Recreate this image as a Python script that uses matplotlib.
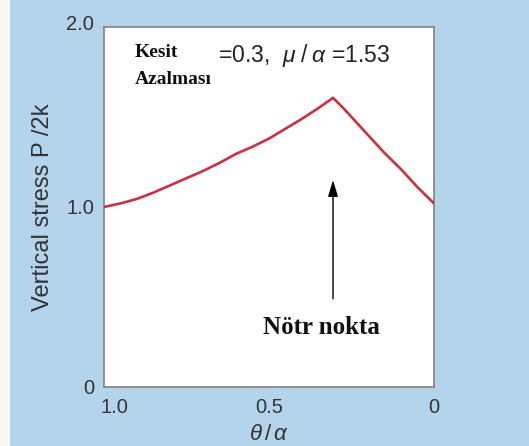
import matplotlib
matplotlib.use("Agg")
import matplotlib.pyplot as plt
from matplotlib.patches import Rectangle
from matplotlib.transforms import ScaledTranslation

# data
theta_ratio = [1.0, 0.95, 0.9, 0.85, 0.8, 0.75, 0.7, 0.65, 0.6, 0.55, 0.5, 0.45, 0.4, 0.35, 0.306,
               0.275, 0.25, 0.225, 0.2, 0.175, 0.15, 0.125, 0.1, 0.075, 0.05, 0.025, 0.0]
stress = [1.0, 1.02, 1.045, 1.08, 1.12, 1.16, 1.20, 1.245, 1.295, 1.335, 1.38, 1.435, 1.49, 1.55, 1.606,
          1.55, 1.50, 1.45, 1.40, 1.35, 1.30, 1.255, 1.21, 1.16, 1.11, 1.065, 1.02]
neutral_x = 0.306
xticks = [1.0, 0.5, 0.0]
xticklabels = ["1.0", "0.5", "0"]
yticks = [0.0, 1.0, 2.0]
yticklabels = ["0", "1.0", "2.0"]

plt.rcParams['mathtext.fontset'] = 'custom'
plt.rcParams['mathtext.rm'] = 'Liberation Sans'
plt.rcParams['mathtext.it'] = 'Liberation Sans:italic'

bg = '#b4d4eb'
fig = plt.figure(figsize=(5.29, 4.46), dpi=100, facecolor=bg)
fig.patches.append(Rectangle((0, 0), 10/529, 1, transform=fig.transFigure,
                             facecolor='#f7f8f2', edgecolor='none', zorder=0))
ax = fig.add_axes([104/529, 59/446, 330/529, 360/446])
ax.set_facecolor('white')

ax.plot(theta_ratio, stress, color='#cc2f40', lw=1.9, solid_joinstyle='miter', zorder=3)
ax.set_xlim(1.0, 0.0)
ax.set_ylim(0, 2.0)

ax.set_xticks(xticks)
ax.set_xticklabels(xticklabels, fontfamily='Liberation Sans', fontsize=14.5, color='#333333')
ax.set_yticks(yticks)
ax.set_yticklabels(yticklabels, fontfamily='Liberation Sans', fontsize=14.5, color='#333333')
ax.tick_params(axis='both', length=0)
ax.tick_params(axis='x', pad=8)
ax.tick_params(axis='y', pad=7)
first = ax.get_xticklabels()[0]
first.set_transform(first.get_transform() + ScaledTranslation(10/100, 0, fig.dpi_scale_trans))
top = ax.get_yticklabels()[2]
top.set_transform(top.get_transform() + ScaledTranslation(0, 4/100, fig.dpi_scale_trans))
ax.set_xticks([0.5], minor=True)
ax.tick_params(axis='x', which='minor', direction='in', length=7, width=1.2, color='#888888')
for s in ax.spines.values():
    s.set_color('#808080')
    s.set_linewidth(1.2)

ax.set_ylabel('Vertical stress P /2k', fontfamily='Liberation Sans', fontsize=17,
              color='#333333', labelpad=9)
ax.set_xlabel(r'$\theta\,/\,\alpha$', fontsize=16, color='#333333', labelpad=5)

ax.text(0.094, 0.928, 'Kesit', transform=ax.transAxes, fontfamily='Liberation Serif',
        fontweight='bold', fontsize=14, va='center', ha='left', color='#111111')
ax.text(0.094, 0.853, 'Azalması', transform=ax.transAxes, fontfamily='Liberation Serif',
        fontweight='bold', fontsize=14, va='center', ha='left', color='#111111')
ax.text(0.345, 0.922, r'=0.3,  $\mathit{\mu}\;/\;\mathit{\alpha}$ =1.53', transform=ax.transAxes,
        fontfamily='Liberation Sans', fontsize=16.5, va='center', ha='left', color='#222222')

ax.annotate('', xy=(neutral_x, 1.15), xytext=(neutral_x, 0.49),
            arrowprops=dict(arrowstyle='-|>,head_length=1.0,head_width=0.3',
                            color='black', lw=1.0, shrinkA=0, shrinkB=0))
ax.text(0.34, 0.333, 'Nötr nokta', fontfamily='Liberation Serif', fontweight='bold',
        fontsize=18, va='center', ha='center', color='#111111')

fig.savefig('out.png', dpi=100, facecolor=bg)
